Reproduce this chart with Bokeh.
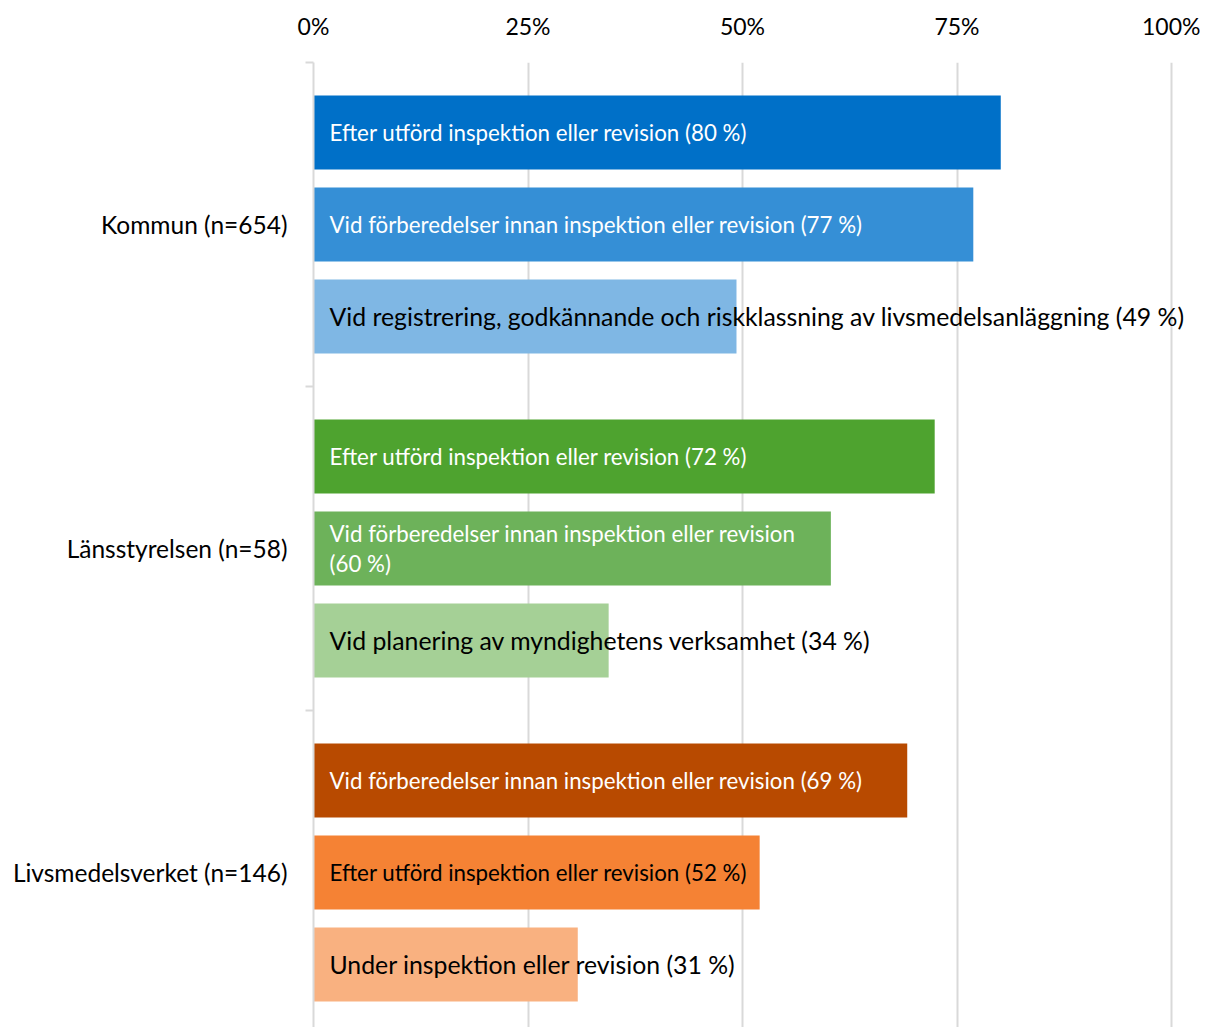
from bokeh.plotting import figure
from bokeh.models import ColumnDataSource, FixedTicker, PrintfTickFormatter, Range1d
from bokeh.core.properties import value
from bokeh.embed import file_html
from bokeh.resources import INLINE

# ---- data ----
groups = ["Kommun (n=654)", "Länsstyrelsen (n=58)", "Livsmedelsverket (n=146)"]
kommun_labels = ["Efter utförd inspektion eller revision (80 %)",
                 "Vid förberedelser innan inspektion eller revision (77 %)",
                 "Vid registrering, godkännande och riskklassning av livsmedelsanläggning (49 %)"]
kommun_values = [80.1, 76.9, 49.3]
lans_labels = ["Efter utförd inspektion eller revision (72 %)",
               "Vid förberedelser innan inspektion eller revision\n(60 %)",
               "Vid planering av myndighetens verksamhet (34 %)"]
lans_values = [72.4, 60.3, 34.4]
slv_labels = ["Vid förberedelser innan inspektion eller revision (69 %)",
              "Efter utförd inspektion eller revision (52 %)",
              "Under inspektion eller revision (31 %)"]
slv_values = [69.2, 52.0, 30.8]
x_ticks = [0, 25, 50, 75, 100]

# ---- styles ----
bar_colors = [["#0070C8", "#358FD6", "#7FB7E4"],
              ["#4EA32F", "#6DB25A", "#A5D096"],
              ["#B84A00", "#F58234", "#F9B180"]]
text_colors = [["white", "white", "black"],
               ["white", "white", "black"],
               ["white", "black", "black"]]
text_sizes = [["22.3px", "22.3px", "24.8px"],
              ["22.3px", "22.3px", "24.8px"],
              ["22.3px", "22.3px", "24.8px"]]
FONT = "Lato"

group_centers = [2.5, 1.5, 0.5]
offsets = [0.284, 0.0, -0.284]
bar_h = 74 / 324

all_labels = [kommun_labels, lans_labels, slv_labels]
all_values = [kommun_values, lans_values, slv_values]

ys, vals, labs, cols, tcols, tsizes = [], [], [], [], [], []
for gi in range(3):
    for bi in range(3):
        ys.append(group_centers[gi] + offsets[bi])
        vals.append(all_values[gi][bi])
        labs.append(all_labels[gi][bi])
        cols.append(bar_colors[gi][bi])
        tcols.append(text_colors[gi][bi])
        tsizes.append(text_sizes[gi][bi])

src = ColumnDataSource(dict(y=ys, v=vals, lab=labs, col=cols, tcol=tcols, tsize=tsizes))

W, H = 1200, 1027
LEFT, TOP = 313, 62
PX_PER_100 = 858
x_end = 100 * (W - LEFT) / PX_PER_100
y_span = (H - TOP) / 324

p = figure(width=W, height=H, output_backend="svg", toolbar_location=None,
           x_range=Range1d(0, x_end), y_range=Range1d(3 - y_span, 3),
           x_axis_location="above", min_border_left=LEFT, min_border_right=0,
           min_border_top=TOP, min_border_bottom=0)
p.outline_line_color = None

p.hbar(y="y", left=0, right="v", height=bar_h, fill_color="col", line_color=None, source=src)
p.text(x=0, y="y", text="lab", x_offset=16, text_color="tcol", text_font_size="tsize",
       text_font=value(FONT), text_baseline="middle", text_align="left",
       text_line_height=1.12, source=src)

# x axis (top)
xa = p.xaxis[0]
xa.ticker = FixedTicker(ticks=x_ticks)
xa.formatter = PrintfTickFormatter(format="%d%%")
xa.axis_line_color = None
xa.major_tick_line_color = None
xa.minor_tick_line_color = None
xa.major_label_text_font = FONT
xa.major_label_text_font_size = "23px"
xa.major_label_text_color = "black"
xa.major_label_standoff = 17

p.xgrid.ticker = FixedTicker(ticks=x_ticks)
p.xgrid.grid_line_color = "#d9d9d9"
p.xgrid.grid_line_width = 2
p.ygrid.grid_line_color = None

# y axis (left)
ya = p.yaxis[0]
ya.ticker = FixedTicker(ticks=group_centers, minor_ticks=[1, 2, 3])
ya.major_label_overrides = {2.5: groups[0], 1.5: groups[1], 0.5: groups[2]}
ya.axis_line_color = "#d9d9d9"
ya.axis_line_width = 2
ya.major_tick_line_color = None
ya.major_tick_out = 0
ya.major_tick_in = 0
ya.minor_tick_line_color = "#d9d9d9"
ya.minor_tick_line_width = 2
ya.minor_tick_out = 8
ya.minor_tick_in = 0
ya.major_label_text_font = FONT
ya.major_label_text_font_size = "24.5px"
ya.major_label_text_color = "black"
ya.major_label_standoff = 18

open("out.html", "w").write(file_html(p, INLINE))
